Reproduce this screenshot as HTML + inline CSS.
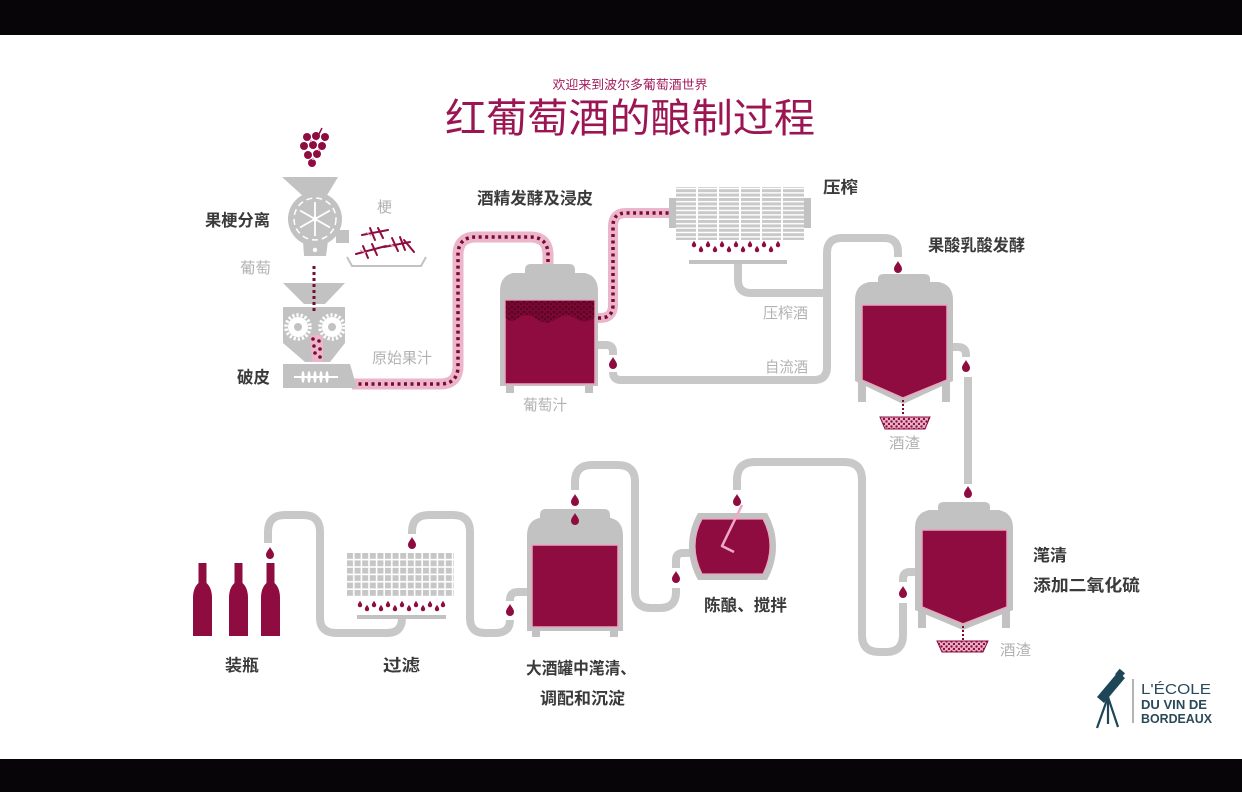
<!DOCTYPE html>
<html><head><meta charset="utf-8">
<style>
html,body{margin:0;padding:0;background:#fff;}
svg{display:block;}
text{font-family:"Liberation Sans","Noto Sans CJK SC",sans-serif;}
.lb{font-weight:bold;fill:#3a3a3a;font-size:16.5px;}
.lg{fill:#b2b2b2;font-size:15px;}
</style></head>
<body>
<svg width="1242" height="792" viewBox="0 0 1242 792" xmlns="http://www.w3.org/2000/svg">
<defs>
  <path id="drop" d="M0,-6 C1.5,-3 4,-1 4,2 A4,4 0 0 1 -4,2 C-4,-1 -1.5,-3 0,-6 Z" fill="#8e0c3f"/>
  <pattern id="hstripe" width="10" height="4.4" patternUnits="userSpaceOnUse">
    <rect width="10" height="3" fill="#c9c9c9"/>
  </pattern>
  <pattern id="grid" x="347" y="553" width="7.6" height="7.4" patternUnits="userSpaceOnUse">
    <rect width="6" height="5.8" fill="#c6c6c6"/>
  </pattern>
  <pattern id="lees" width="5" height="5" patternUnits="userSpaceOnUse">
    <rect width="5" height="5" fill="#e9b3c8"/>
    <circle cx="1.5" cy="1.5" r="1.2" fill="#8e0c3f"/>
    <circle cx="4" cy="4" r="1.2" fill="#8e0c3f"/>
  </pattern>
  <pattern id="pomace" width="6" height="5" patternUnits="userSpaceOnUse">
    <rect width="6" height="5" fill="#7a0833"/>
    <circle cx="2" cy="2" r="1.4" fill="#5a0425"/>
    <circle cx="5" cy="4" r="1.2" fill="#5a0425"/>
  </pattern>
</defs>

<!-- black bars -->
<rect x="0" y="0" width="1242" height="35" fill="#070507"/>
<rect x="0" y="759" width="1242" height="33" fill="#070507"/>

<!-- titles -->
<text x="630" y="89" text-anchor="middle" font-size="12.5" fill="#a3195b" textLength="155" lengthAdjust="spacingAndGlyphs">欢迎来到波尔多葡萄酒世界</text>
<text x="445" y="132" font-size="40" fill="#9b1552" textLength="370" lengthAdjust="spacingAndGlyphs">红葡萄酒的酿制过程</text>

<!-- ============ GRAY PIPES ============ -->
<g fill="none" stroke="#c8c8c8" stroke-width="8">
  <path d="M738,262 L738,280 Q738,293 751,293 L827,293"/>
  <path d="M598,345 L606,345 Q613,345 613,352 L613,355"/>
  <path d="M613,372 Q613,380 621,380 L814,380 Q827,380 827,367 L827,253 Q827,238 842,238 L884,238 Q898,238 898,252 L898,257"/>
  <path d="M947,347 L958,347 Q966,347 966,355 L966,357"/>
  <path d="M968,377 L968,484"/>
  <path d="M922,572 L910,572 Q903,572 903,579 L903,582"/>
  <path d="M903,603 L903,635 Q903,652 886,652 L879,652 Q862,652 862,635 L862,480 Q862,462 844,462 L755,462 Q737,462 737,480 L737,490"/>
  <path d="M690,553 L683,553 Q676,553 676,560 L676,568"/>
  <path d="M676,588 L676,592 Q676,608 660,608 L651,608 Q635,608 635,592 L635,482 Q635,465 618,465 L592,465 Q575,465 575,482 L575,490"/>
  <path d="M527,592 L518,592 Q510,592 510,600 L510,601"/>
  <path d="M510,620 Q510,633 495,633 L485,633 Q470,633 470,618 L470,532 Q470,515 453,515 L429,515 Q412,515 412,532 L412,534"/>
  <path d="M402,617 L402,618 Q402,633 387,633 L337,633 Q320,633 320,618 L320,532 Q320,515 303,515 L285,515 Q268,515 268,532 L268,543"/>
</g>

<!-- ============ PINK PIPES ============ -->
<g fill="none" stroke-linejoin="round">
  <path d="M352,384 L440,384 Q458,384 458,366 L458,255 Q458,237 476,237 L530,237 Q548,237 548,255 L548,298" stroke="#ebb5ca" stroke-width="11"/>
  <path d="M352,384 L440,384 Q458,384 458,366 L458,255 Q458,237 476,237 L530,237 Q548,237 548,255 L548,298" stroke="#7a0a35" stroke-width="3.5" stroke-dasharray="3 3.5"/>
  <path d="M598,318 L600,318 Q613,318 613,305 L613,226 Q613,213 626,213 L672,213" stroke="#ebb5ca" stroke-width="10"/>
  <path d="M598,318 L600,318 Q613,318 613,305 L613,226 Q613,213 626,213 L672,213" stroke="#7a0a35" stroke-width="3.5" stroke-dasharray="3 3.5"/>
</g>

<!-- ============ DESTEMMER ============ -->
<g>
  <path d="M316,140 L322,128" stroke="#8e0c3f" stroke-width="1.5"/>
  <g fill="#8e0c3f">
    <circle cx="307" cy="137" r="4"/><circle cx="316" cy="136" r="4"/><circle cx="325" cy="137" r="4"/>
    <circle cx="304" cy="146" r="4"/><circle cx="313" cy="145" r="4"/><circle cx="322" cy="146" r="4"/>
    <circle cx="308" cy="155" r="4"/><circle cx="317" cy="154" r="4"/>
    <circle cx="312" cy="163" r="4"/>
  </g>
  <g fill="#e9a7c2"><circle cx="311" cy="141" r="1.2"/><circle cx="319" cy="150" r="1.2"/><circle cx="313" cy="159" r="1.2"/></g>
</g>
<path d="M282,177 L338,177 L326,197 L304,197 Z" fill="#c2c2c2"/>
<circle cx="315" cy="219" r="27" fill="#c2c2c2"/>
<circle cx="315" cy="219" r="21" fill="none" stroke="#fff" stroke-width="1.5" stroke-dasharray="6 4"/>
<g stroke="#fff" stroke-width="1.8">
  <line x1="315" y1="202" x2="315" y2="236"/>
  <line x1="300" y1="210.5" x2="330" y2="227.5"/>
  <line x1="300" y1="227.5" x2="330" y2="210.5"/>
</g>
<circle cx="315" cy="219" r="2.5" fill="#fff"/>
<rect x="336" y="230" width="13" height="13" fill="#c2c2c2"/>
<path d="M303,241 L328,241 L326,256 L304,256 Z" fill="#c2c2c2"/>
<circle cx="315" cy="250" r="2.2" fill="#fff"/>
<path d="M347,257 L352,266 L421,266 L426,257" fill="none" stroke="#c2c2c2" stroke-width="2"/>
<g stroke="#8e0c3f" stroke-width="2" fill="none" stroke-linecap="round">
  <path d="M362,235 L388,230"/><path d="M370,228 L375,240"/><path d="M378,228 L383,238"/>
  <path d="M356,254 L386,246"/><path d="M363,246 L368,258"/><path d="M372,244 L377,255"/>
  <path d="M384,247 L410,242"/><path d="M392,238 L398,251"/><path d="M400,237 L405,250"/>
  <path d="M404,240 L414,252"/>
</g>
<g stroke="#e89ab9" stroke-width="1" fill="none">
  <path d="M366,232 L371,236"/><path d="M360,250 L366,253"/><path d="M389,244 L395,247"/>
</g>

<!-- ============ CRUSHER ============ -->
<path d="M283,283 L345,283 L325,304 L304,304 Z" fill="#c2c2c2"/>
<path d="M283,307 L345,307 L345,343 L330,362 L305,362 L283,343 Z" fill="#c2c2c2"/>
<path d="M283,364 L350,364 L357,388 L283,388 Z" fill="#c2c2c2"/>
<g>
  <circle cx="298" cy="327" r="12" fill="none" stroke="#fff" stroke-width="3.5" stroke-dasharray="2.2 2"/>
  <circle cx="298" cy="327" r="10" fill="#fff"/><circle cx="298" cy="327" r="4" fill="#c2c2c2"/>
  <circle cx="332" cy="327" r="12" fill="none" stroke="#fff" stroke-width="3.5" stroke-dasharray="2.2 2"/>
  <circle cx="332" cy="327" r="10" fill="#fff"/><circle cx="332" cy="327" r="4" fill="#c2c2c2"/>
</g>
<line x1="294" y1="377" x2="338" y2="377" stroke="#fff" stroke-width="2"/>
<g fill="#fff">
  <ellipse cx="303" cy="377" rx="1.6" ry="6"/><ellipse cx="309" cy="377" rx="1.6" ry="6"/>
  <ellipse cx="315" cy="377" rx="1.6" ry="6"/><ellipse cx="321" cy="377" rx="1.6" ry="6"/>
  <ellipse cx="327" cy="377" rx="1.6" ry="6"/>
</g>
<line x1="314" y1="266" x2="314" y2="313" stroke="#7a0a35" stroke-width="3" stroke-dasharray="3 3"/>
<path d="M310,335 L323,335 L323,362 L312,362 Z" fill="#ebb5ca"/>
<g fill="#7a0a35">
  <circle cx="313" cy="339" r="1.8"/><circle cx="319" cy="341" r="1.8"/><circle cx="314" cy="346" r="1.8"/>
  <circle cx="320" cy="349" r="1.8"/><circle cx="315" cy="353" r="1.8"/><circle cx="320" cy="357" r="1.8"/>
</g>

<!-- ============ FERMENTATION TANK ============ -->
<path d="M525,270 Q525,264 531,264 L569,264 Q575,264 575,270 L575,273 L585,273 Q598,276 598,291 L598,386 L500,386 L500,291 Q500,276 513,273 L525,273 Z" fill="#c2c2c2"/>
<rect x="506" y="384" width="8" height="9" fill="#c2c2c2"/>
<rect x="585" y="384" width="8" height="9" fill="#c2c2c2"/>
<rect x="505" y="300" width="90" height="84" fill="#8e0c3f" stroke="#e8a5be" stroke-width="1.5"/>
<path d="M505.8,300.8 L594.2,300.8 L594.2,318 Q585,325 575,318 Q565,312 555,320 Q545,326 535,318 Q525,312 515,320 Q510,323 505.8,318 Z" fill="url(#pomace)"/>

<!-- ============ PRESS ============ -->
<rect x="676" y="187" width="128" height="53" fill="#fff"/>
<rect x="676" y="187" width="128" height="53" fill="url(#hstripe)"/>
<g stroke="#fff" stroke-width="2">
  <line x1="697" y1="187" x2="697" y2="240"/><line x1="718" y1="187" x2="718" y2="240"/>
  <line x1="740" y1="187" x2="740" y2="240"/><line x1="761" y1="187" x2="761" y2="240"/>
  <line x1="782" y1="187" x2="782" y2="240"/>
</g>
<rect x="669" y="198" width="7" height="30" fill="#c2c2c2"/>
<rect x="804" y="198" width="7" height="30" fill="#c2c2c2"/>
<g>
  <use href="#drop" transform="translate(694,244) scale(0.55)"/>
  <use href="#drop" transform="translate(701,249) scale(0.55)"/>
  <use href="#drop" transform="translate(708,244) scale(0.55)"/>
  <use href="#drop" transform="translate(715,249) scale(0.55)"/>
  <use href="#drop" transform="translate(722,244) scale(0.55)"/>
  <use href="#drop" transform="translate(729,249) scale(0.55)"/>
  <use href="#drop" transform="translate(736,244) scale(0.55)"/>
  <use href="#drop" transform="translate(743,249) scale(0.55)"/>
  <use href="#drop" transform="translate(750,244) scale(0.55)"/>
  <use href="#drop" transform="translate(757,249) scale(0.55)"/>
  <use href="#drop" transform="translate(764,244) scale(0.55)"/>
  <use href="#drop" transform="translate(771,249) scale(0.55)"/>
  <use href="#drop" transform="translate(778,244) scale(0.55)"/>
</g>
<rect x="689" y="260" width="98" height="4" fill="#c2c2c2"/>

<!-- ============ MLF TANK ============ -->
<path d="M878,279 Q878,274 884,274 L924,274 Q930,274 930,279 L930,282 L939,282 Q953,285 953,300 L953,381 L903,404 L855,381 L855,300 Q855,285 869,282 L878,282 Z" fill="#c2c2c2"/>
<rect x="858" y="378" width="8" height="24" fill="#c2c2c2"/>
<rect x="942" y="378" width="8" height="24" fill="#c2c2c2"/>
<path d="M862,305 L947,305 L947,380 L903,398 L862,380 Z" fill="#8e0c3f" stroke="#e8a5be" stroke-width="1.5"/>
<line x1="903" y1="400" x2="903" y2="416" stroke="#7a0a35" stroke-width="2" stroke-dasharray="2 2"/>
<path d="M880,417 L930,417 L925,429 L885,429 Z" fill="url(#lees)" stroke="#8e0c3f" stroke-width="1"/>

<!-- ============ CLARIFICATION TANK ============ -->
<path d="M938,507 Q938,502 944,502 L984,502 Q990,502 990,507 L990,510 L999,510 Q1013,513 1013,528 L1013,610 L963,630 L915,610 L915,528 Q915,513 929,510 L938,510 Z" fill="#c2c2c2"/>
<rect x="918" y="606" width="8" height="22" fill="#c2c2c2"/>
<rect x="1002" y="606" width="8" height="22" fill="#c2c2c2"/>
<path d="M922,530 L1007,530 L1007,607 L963,624 L922,607 Z" fill="#8e0c3f" stroke="#e8a5be" stroke-width="1.5"/>
<line x1="963" y1="626" x2="963" y2="640" stroke="#7a0a35" stroke-width="2" stroke-dasharray="2 2"/>
<path d="M937,641 L988,641 L983,652 L942,652 Z" fill="url(#lees)" stroke="#8e0c3f" stroke-width="1"/>

<!-- ============ BARREL ============ -->
<path d="M698,513 L767,513 Q776,529 776,546 Q776,564 767,580 L698,580 Q689,564 689,546 Q689,529 698,513 Z" fill="#c2c2c2"/>
<path d="M702,519 L763,519 Q770,532 770,546 Q770,560 763,574 L702,574 Q695,560 695,546 Q695,532 702,519 Z" fill="#8e0c3f" stroke="#e8a5be" stroke-width="1.2"/>
<path d="M742,505 L722,546 L734,552" fill="none" stroke="#f0a8c8" stroke-width="2.5" stroke-linejoin="round"/>

<!-- ============ BLENDING TANK ============ -->
<path d="M540,515 Q540,509 546,509 L604,509 Q610,509 610,515 L610,518 L611,518 Q623,521 623,536 L623,631 L527,631 L527,536 Q527,521 539,518 L540,518 Z" fill="#c2c2c2"/>
<rect x="532" y="629" width="8" height="8" fill="#c2c2c2"/>
<rect x="610" y="629" width="8" height="8" fill="#c2c2c2"/>
<rect x="532" y="545" width="86" height="82" fill="#8e0c3f" stroke="#e8a5be" stroke-width="1.5"/>

<!-- ============ FILTER ============ -->
<rect x="347" y="553" width="107" height="44" fill="url(#grid)"/>
<g>
  <use href="#drop" transform="translate(360,604) scale(0.55)"/>
  <use href="#drop" transform="translate(367,608) scale(0.55)"/>
  <use href="#drop" transform="translate(374,604) scale(0.55)"/>
  <use href="#drop" transform="translate(381,608) scale(0.55)"/>
  <use href="#drop" transform="translate(388,604) scale(0.55)"/>
  <use href="#drop" transform="translate(395,608) scale(0.55)"/>
  <use href="#drop" transform="translate(402,604) scale(0.55)"/>
  <use href="#drop" transform="translate(409,608) scale(0.55)"/>
  <use href="#drop" transform="translate(416,604) scale(0.55)"/>
  <use href="#drop" transform="translate(423,608) scale(0.55)"/>
  <use href="#drop" transform="translate(430,604) scale(0.55)"/>
  <use href="#drop" transform="translate(437,608) scale(0.55)"/>
  <use href="#drop" transform="translate(443,604) scale(0.55)"/>
</g>
<rect x="357" y="615" width="89" height="4" fill="#c2c2c2"/>

<!-- ============ BOTTLES ============ -->
<g fill="#8e0c3f">
  <path d="M198.5,563 L206.5,563 L206.5,583 Q212,588 212,598 L212,636 L193,636 L193,598 Q193,588 198.5,583 Z"/>
  <path d="M234.5,563 L242.5,563 L242.5,583 Q248,588 248,598 L248,636 L229,636 L229,598 Q229,588 234.5,583 Z"/>
  <path d="M266.5,563 L274.5,563 L274.5,583 Q280,588 280,598 L280,636 L261,636 L261,598 Q261,588 266.5,583 Z"/>
</g>

<!-- ============ DROPS ============ -->
<use href="#drop" x="613" y="363"/>
<use href="#drop" x="898" y="267"/>
<use href="#drop" x="966" y="366"/>
<use href="#drop" x="968" y="492"/>
<use href="#drop" x="903" y="592"/>
<use href="#drop" x="737" y="500"/>
<use href="#drop" x="676" y="577"/>
<use href="#drop" x="575" y="500"/>
<use href="#drop" x="575" y="519"/>
<use href="#drop" x="510" y="610"/>
<use href="#drop" x="412" y="543"/>
<use href="#drop" x="270" y="553"/>

<!-- ============ LABELS ============ -->
<text class="lb" x="205" y="226" textLength="65" lengthAdjust="spacingAndGlyphs">果梗分离</text>
<text class="lb" x="237" y="383" textLength="33" lengthAdjust="spacingAndGlyphs">破皮</text>
<text class="lb" x="477" y="204" textLength="116" lengthAdjust="spacingAndGlyphs">酒精发酵及浸皮</text>
<text class="lb" x="823" y="193" textLength="35" lengthAdjust="spacingAndGlyphs">压榨</text>
<text class="lb" x="928" y="251" textLength="97" lengthAdjust="spacingAndGlyphs">果酸乳酸发酵</text>
<text class="lb" x="1033" y="561" font-size="17" textLength="34" lengthAdjust="spacingAndGlyphs">滗清</text>
<text class="lb" x="1033" y="591" font-size="17" textLength="107" lengthAdjust="spacingAndGlyphs">添加二氧化硫</text>
<text class="lb" x="704" y="611" textLength="83" lengthAdjust="spacingAndGlyphs">陈酿、搅拌</text>
<text class="lb" x="526" y="674" textLength="110" lengthAdjust="spacingAndGlyphs">大酒罐中滗清、</text>
<text class="lb" x="540" y="704" textLength="85" lengthAdjust="spacingAndGlyphs">调配和沉淀</text>
<text class="lb" x="225" y="671" textLength="34" lengthAdjust="spacingAndGlyphs">装瓶</text>
<text class="lb" x="383" y="671" textLength="37" lengthAdjust="spacingAndGlyphs">过滤</text>

<text class="lg" x="377" y="212">梗</text>
<text class="lg" x="240" y="273" textLength="31" lengthAdjust="spacingAndGlyphs">葡萄</text>
<text class="lg" x="372" y="363" textLength="60" lengthAdjust="spacingAndGlyphs">原始果汁</text>
<text class="lg" x="523" y="410" textLength="44" lengthAdjust="spacingAndGlyphs">葡萄汁</text>
<text class="lg" x="763" y="318" textLength="45" lengthAdjust="spacingAndGlyphs">压榨酒</text>
<text class="lg" x="765" y="372" textLength="43" lengthAdjust="spacingAndGlyphs">自流酒</text>
<text class="lg" x="889" y="448" textLength="31" lengthAdjust="spacingAndGlyphs">酒渣</text>
<text class="lg" x="1000" y="655" textLength="31" lengthAdjust="spacingAndGlyphs">酒渣</text>

<!-- ============ LOGO ============ -->
<g>
  <path d="M1097,697 L1118,672 L1125,678 L1104,703 Z" fill="#1f4657"/>
  <rect x="1117" y="670" width="7" height="7" transform="rotate(40 1120 673)" fill="#1f4657"/>
  <g stroke="#1f4657" stroke-width="2.2" fill="none">
    <line x1="1108" y1="697" x2="1097" y2="728"/>
    <line x1="1108" y1="697" x2="1118" y2="727"/>
    <line x1="1108" y1="697" x2="1108" y2="724"/>
  </g>
  <line x1="1133" y1="679" x2="1133" y2="723" stroke="#9a9a9a" stroke-width="1.5"/>
  <text x="1141" y="694" font-size="15" fill="#2a4a5a" textLength="70" lengthAdjust="spacingAndGlyphs">L'ÉCOLE</text>
  <text x="1141" y="709" font-size="12.5" font-weight="bold" fill="#2a4a5a" textLength="66" lengthAdjust="spacingAndGlyphs">DU VIN DE</text>
  <text x="1141" y="723" font-size="12.5" font-weight="bold" fill="#2a4a5a" textLength="71" lengthAdjust="spacingAndGlyphs">BORDEAUX</text>
</g>
</svg>
</body></html>
